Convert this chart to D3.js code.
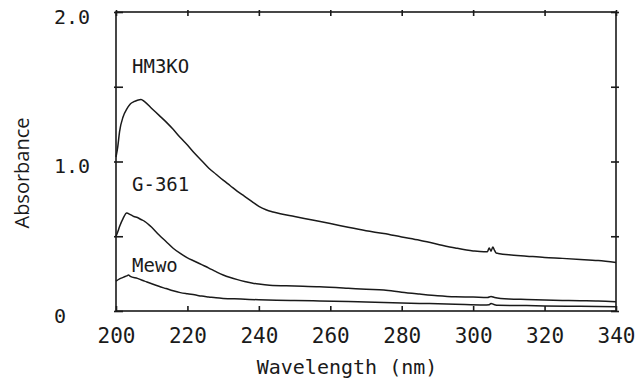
<!DOCTYPE html>
<html>
<head>
<meta charset="utf-8">
<script src="https://cdn.jsdelivr.net/npm/d3@7"></script>
<style>
  html, body { margin: 0; padding: 0; background: #fff; }
  svg { display: block; }
</style>
</head>
<body>
<svg id="chart" width="638" height="383"></svg>
<script>
// ---- data ----
const xTicks = [200, 220, 240, 260, 280, 300, 320, 340];
const yTicks = [0, 0.5, 1.0, 1.5, 2.0];
const yTickLabels = {0: "0", 1: "1.0", 2: "2.0"};
const seriesNames = ["HM3KO", "G-361", "Mewo"];

const hm3koNm = [200,200.5,201,202,203,204,205,206,207,208,210,212,214,216,218,220,222,224,226,228,230,232,234,236,238,240,242,244,246,250,255,260,265,270,275,280,285,290,295,300,303,304,304.5,305,305.5,306,306.5,307,310,315,320,325,330,335,340];
const hm3koAbs = [1.03,1.10,1.20,1.30,1.35,1.385,1.40,1.41,1.415,1.40,1.355,1.31,1.265,1.215,1.16,1.11,1.055,1.005,0.955,0.915,0.875,0.838,0.80,0.767,0.733,0.70,0.677,0.662,0.65,0.632,0.608,0.585,0.56,0.537,0.518,0.495,0.473,0.447,0.422,0.402,0.396,0.397,0.422,0.40,0.428,0.405,0.387,0.385,0.376,0.367,0.358,0.352,0.345,0.337,0.325];

const g361Nm = [200,200.5,201,202,203,204,205,206,207,208,210,212,214,216,218,220,222,224,226,228,230,232,234,236,238,240,243,250,257,265,270,275,280,285,290,295,300,304,305,306,310,315,320,325,330,335,340];
const g361Abs = [0.50,0.53,0.565,0.62,0.655,0.645,0.632,0.625,0.612,0.60,0.56,0.51,0.465,0.42,0.385,0.355,0.333,0.31,0.287,0.263,0.241,0.224,0.21,0.198,0.188,0.18,0.172,0.167,0.162,0.152,0.145,0.14,0.125,0.113,0.102,0.095,0.093,0.09,0.097,0.09,0.08,0.077,0.074,0.071,0.069,0.067,0.062];

const mewoNm = [200,201,202,203,203.5,204,206,208,210,212,214,216,218,220,222,224,226,228,230,235,240,245,250,257,265,270,275,285,295,303,304.5,305,306,307,315,320,330,340];
const mewoAbs = [0.20,0.215,0.225,0.235,0.24,0.232,0.218,0.20,0.182,0.165,0.15,0.135,0.123,0.115,0.108,0.10,0.094,0.088,0.084,0.08,0.075,0.072,0.07,0.067,0.063,0.06,0.057,0.051,0.045,0.04,0.042,0.05,0.042,0.038,0.036,0.034,0.031,0.028];

const labelNames = ["HM3KO", "G-361", "Mewo"];
const labelAt = [[200, 1.59], [200, 0.80], [200, 0.26]]; // label anchor in data units
const xTitle = "Wavelength (nm)";
const yTitle = "Absorbance";

// ---- drawing ----
const svg = d3.select("#chart");
const ink = "#1a1a1a";
const mono = "'DejaVu Sans Mono', monospace";

const x = d3.scaleLinear().domain([200, 340]).range([116, 616]);
const y = d3.scaleLinear().domain([0, 2]).range([311, 12]);

// frame
svg.append("rect")
  .attr("x", x(200)).attr("y", y(2))
  .attr("width", x(340) - x(200)).attr("height", y(0) - y(2))
  .attr("fill", "none").attr("stroke", ink).attr("stroke-width", 1.6);

// bottom axis
const gx = svg.append("g").attr("transform", `translate(0,${y(0)})`)
  .call(d3.axisBottom(x).tickValues(xTicks).tickSizeInner(-5).tickSizeOuter(0).tickPadding(17).tickFormat(d3.format("d")));
gx.select(".domain").remove();
gx.selectAll("line").attr("stroke", ink).attr("stroke-width", 1.6);
gx.selectAll("text").attr("fill", ink).style("font-family", mono).style("font-size", "21px");

// top axis (crossing ticks)
const gt = svg.append("g").attr("transform", `translate(0,${y(2)})`)
  .call(d3.axisTop(x).tickValues(xTicks).tickSizeOuter(0).tickFormat(""));
gt.select(".domain").remove();
gt.selectAll("line").attr("y1", -2).attr("y2", 4).attr("stroke", ink).attr("stroke-width", 1.6);

// left axis
const gy = svg.append("g").attr("transform", `translate(${x(200)},0)`)
  .call(d3.axisLeft(y).tickValues(yTicks).tickSizeOuter(0)
    .tickFormat(d => yTickLabels[d] !== undefined ? yTickLabels[d] : ""));
gy.select(".domain").remove();
gy.selectAll("line").attr("x1", -2).attr("x2", 7).attr("stroke", ink).attr("stroke-width", 1.6);
gy.selectAll("text").attr("fill", ink).attr("x", -62).attr("dy", "0.55em")
  .attr("text-anchor", "start").style("font-family", mono).style("font-size", "20px");

// right axis
const gr = svg.append("g").attr("transform", `translate(${x(340)},0)`)
  .call(d3.axisRight(y).tickValues(yTicks).tickSizeOuter(0).tickFormat(""));
gr.select(".domain").remove();
gr.selectAll("line").attr("x1", -5).attr("x2", 3).attr("stroke", ink).attr("stroke-width", 1.6);

// curves
const line = d3.line().x(d => x(d[0])).y(d => y(d[1])).curve(d3.curveMonotoneX);
const series = [
  d3.zip(hm3koNm, hm3koAbs),
  d3.zip(g361Nm, g361Abs),
  d3.zip(mewoNm, mewoAbs)
];
svg.append("g").selectAll("path").data(series).join("path")
  .attr("d", line).attr("fill", "none").attr("stroke", ink)
  .attr("stroke-width", 1.5).attr("stroke-linejoin", "round");

// curve labels
svg.append("g").selectAll("text").data(labelNames).join("text")
  .attr("x", (d, i) => x(labelAt[i][0]) + 16)
  .attr("y", (d, i) => y(labelAt[i][1]))
  .attr("fill", ink).style("font-family", mono).style("font-size", "19px")
  .text(d => d);

// axis titles
svg.append("text").attr("x", 347).attr("y", 374).attr("text-anchor", "middle")
  .attr("fill", ink).style("font-family", mono).style("font-size", "20px").text(xTitle);
svg.append("text").attr("transform", "translate(29,173) rotate(-90)").attr("text-anchor", "middle")
  .attr("fill", ink).style("font-family", "'Open Sans', sans-serif").style("font-size", "20px").text(yTitle);
</script>
</body>
</html>
